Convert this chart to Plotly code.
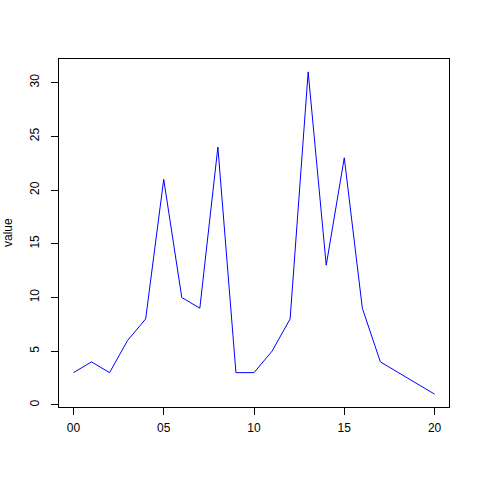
import plotly.graph_objects as go

x_vals = [0, 1, 2, 3, 4, 5, 6, 7, 8, 9, 10, 11, 12, 13, 14, 15, 16, 17, 20]
values = [3, 4, 3, 6, 8, 21, 10, 9, 24, 3, 3, 5, 8, 31, 13, 23, 9, 4, 1]
x_ticks = [0, 5, 10, 15, 20]
x_tick_labels = ["00", "05", "10", "15", "20"]
y_ticks = [0, 5, 10, 15, 20, 25, 30]
y_title = "value"

fig = go.Figure()
fig.add_trace(go.Scatter(x=x_vals, y=values, mode="lines",
                         line=dict(color="#0000ff", width=1), showlegend=False))

font = dict(family="Liberation Sans, Arial, sans-serif", size=12, color="black")
fig.update_layout(
    width=480, height=480,
    margin=dict(l=59, r=31, t=59, b=73),
    paper_bgcolor="white", plot_bgcolor="white",
    font=font,
    xaxis=dict(range=[-0.8, 20.8], tickvals=x_ticks, ticktext=x_tick_labels,
               showgrid=False, zeroline=False, showline=True, mirror=True,
               linecolor="black", linewidth=1, ticks="outside", ticklen=7,
               tickcolor="black", tickfont=font, automargin=False,
               ticklabelstandoff=3),
    yaxis=dict(range=[-0.2, 32.2], tickvals=y_ticks, tickangle=-90,
               showgrid=False, zeroline=False, showline=True, mirror=True,
               linecolor="black", linewidth=1, ticks="outside", ticklen=7,
               tickcolor="black", tickfont=font, automargin=False,
               ticklabelstandoff=7),
    annotations=[dict(text=y_title, xref="paper", yref="paper",
                      x=-51 / 390, y=0.5, xanchor="center", yanchor="middle",
                      textangle=-90, showarrow=False, font=font)],
)
fig.write_html("out.html",
               config={"displayModeBar": False},
               post_script="document.body.style.margin='0';")
